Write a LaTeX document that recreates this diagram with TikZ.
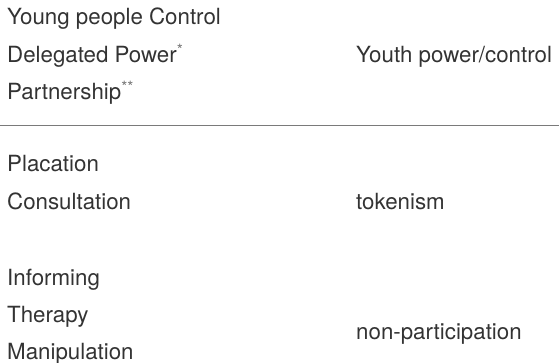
\documentclass[tikz,border=0pt]{standalone}
\usepackage{fontspec}
\setmainfont{TeX Gyre Heros}
\usepackage{xcolor}
\usepackage{tikz}
\usetikzlibrary{positioning}
\definecolor{ladder-text}{HTML}{333333}
\definecolor{ladder-star}{HTML}{777777}
\definecolor{ladder-rule}{HTML}{7A7A7A}
\tikzset{ladder-rung/.style={anchor=base west, inner sep=0, text=ladder-text, font=\fontsize{22.3}{26}\selectfont}}
\tikzset{ladder-group/.style={ladder-rung}}
\tikzset{ladder-line/.style={line width=1.2pt, draw=ladder-rule}}
\newcommand{\ladderstar}[1]{\textsuperscript{\textcolor{ladder-star}{#1}}}

\begin{document}
\begin{tikzpicture}[x=1pt, y=-1pt]
            \useasboundingbox (0,0) rectangle (559,363);

            % upper rungs
            \node[ladder-rung] (rung8) at (7,25) {Young people Control};
            \node[ladder-rung] (rung7) at (7,63) {Delegated Power\ladderstar{*}};
            \node[ladder-rung] (rung6) at (7,100) {Partnership\ladderstar{**}};
            \node[ladder-group] (youth) at (356,63) {Youth power/control};

            \coordinate (rule-left) at (0,125.5);
            \coordinate (rule-right) at (559,125.5);
            \draw[ladder-line] (rule-left) -- (rule-right);

            % middle rungs
            \node[ladder-rung] (rung5) at (7,172) {Placation};
            \node[ladder-rung] (rung4) at (7,210) {Consultation};
            \node[ladder-group] (token) at (356,210) {tokenism};

            % lower rungs
            \node[ladder-rung] (rung3) at (7,285) {Informing};
            \node[ladder-rung] (rung2) at (7,322) {Therapy};
            \node[ladder-rung] (rung1) at (7,359) {Manipulation};
            \node[ladder-group] (nonpart) at (356,339) {non-participation};

        \end{tikzpicture}
\end{document}
